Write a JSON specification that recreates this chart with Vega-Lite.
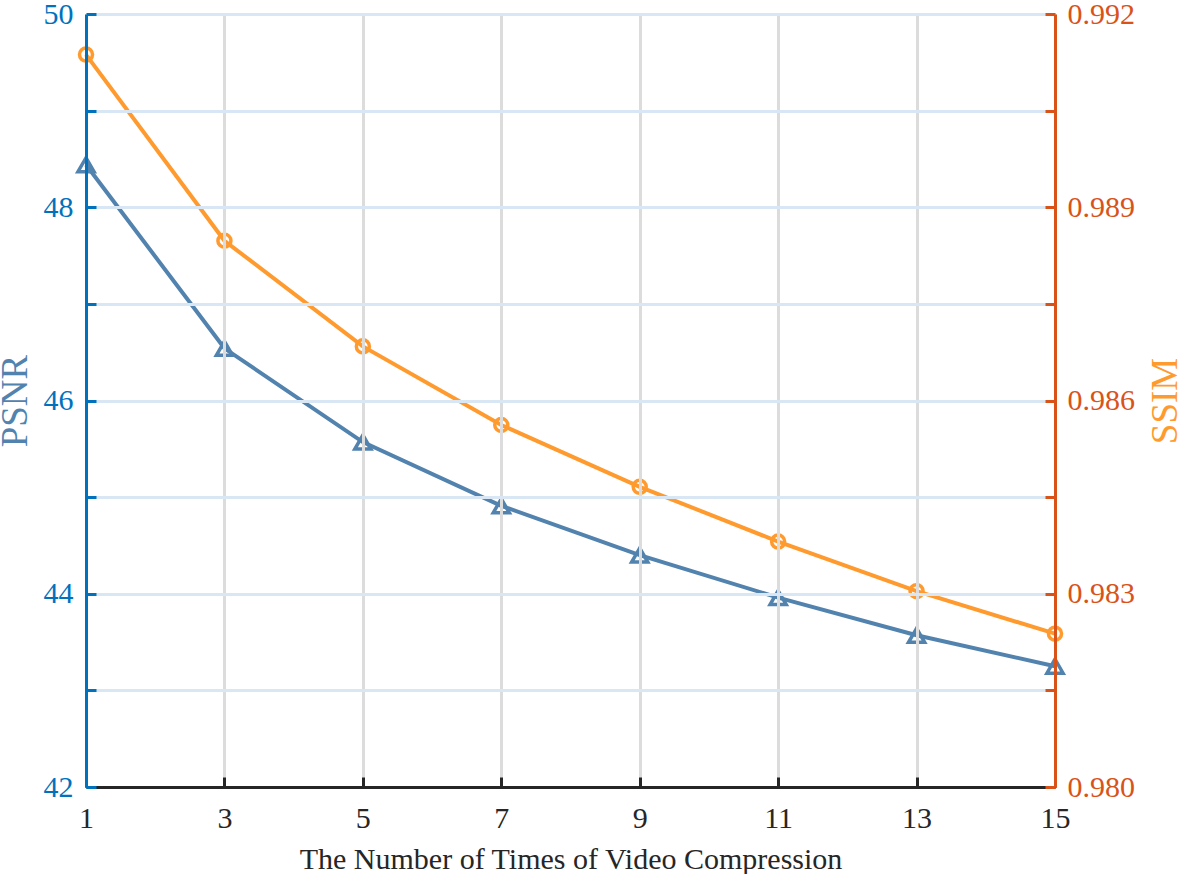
{
  "$schema": "https://vega.github.io/schema/vega-lite/v6.json",
  "width": 969,
  "height": 773,
  "autosize": {"type": "none"},
  "padding": {"left": 86, "top": 14, "right": 126, "bottom": 87},
  "background": "white",
  "config": {
    "view": {"stroke": null},
    "font": "Liberation Serif",
    "axis": {"labelFont": "Liberation Serif", "titleFont": "Liberation Serif", "titleFontWeight": "normal", "labelFlush": false, "labelOverlap": false}
  },
  "data": {
    "values": [
      {"n": 1, "psnr": 48.44, "ssim": 0.99137},
      {"n": 3, "psnr": 46.54, "ssim": 0.98848},
      {"n": 5, "psnr": 45.57, "ssim": 0.98684},
      {"n": 7, "psnr": 44.91, "ssim": 0.98562},
      {"n": 9, "psnr": 44.40, "ssim": 0.98466},
      {"n": 11, "psnr": 43.96, "ssim": 0.98381},
      {"n": 13, "psnr": 43.57, "ssim": 0.98304},
      {"n": 15, "psnr": 43.25, "ssim": 0.98238}
    ]
  },
  "encoding": {
    "x": {
      "field": "n",
      "type": "quantitative",
      "scale": {"domain": [1, 15], "nice": false, "zero": false},
      "axis": {
        "title": "The Number of Times of Video Compression",
        "values": [1, 3, 5, 7, 9, 11, 13, 15],
        "format": "d",
        "labelFontSize": 30,
        "labelColor": "#262626",
        "labelPadding": 26,
        "titleFontSize": 30,
        "titleColor": "#262626",
        "titlePadding": 11,
        "domainColor": "#262626",
        "domainWidth": 3,
        "tickColor": "#262626",
        "tickWidth": 3,
        "tickSize": -10,
        "grid": true,
        "gridColor": "#dcdcdc",
        "gridWidth": 3,
        "zindex": 1
      }
    }
  },
  "layer": [
    {
      "mark": {
        "type": "line",
        "color": "#5283ae",
        "strokeWidth": 4,
        "point": {"shape": "triangle-up", "filled": false, "size": 260, "color": "#5283ae", "strokeWidth": 3.5}
      },
      "encoding": {
        "y": {
          "field": "psnr",
          "type": "quantitative",
          "scale": {"domain": [42, 50], "nice": false, "zero": false},
          "axis": {
            "orient": "left",
            "title": "PSNR",
            "values": [42, 43, 44, 45, 46, 47, 48, 49, 50],
            "labelExpr": "datum.value % 2 == 0 ? datum.label : ''",
            "labelFontSize": 30,
            "labelColor": "#0072BD",
            "labelPadding": 23,
            "titleFontSize": 37,
            "titleColor": "#5283ae",
            "titlePadding": 9,
            "domainColor": "#0072BD",
            "domainWidth": 3,
            "tickColor": "#0072BD",
            "tickWidth": 3,
            "tickSize": -10,
            "grid": true,
            "gridColor": "#d8e7f3",
            "gridWidth": 3,
            "zindex": 1
          }
        }
      }
    },
    {
      "mark": {
        "type": "line",
        "color": "#ff9a2e",
        "strokeWidth": 4,
        "point": {"shape": "circle", "filled": false, "size": 170, "color": "#ff9a2e", "strokeWidth": 3.5}
      },
      "encoding": {
        "y": {
          "field": "ssim",
          "type": "quantitative",
          "scale": {"domain": [0.98, 0.992], "nice": false, "zero": false},
          "axis": {
            "orient": "right",
            "title": "SSIM",
            "values": [0.98, 0.9815, 0.983, 0.9845, 0.986, 0.9875, 0.989, 0.9905, 0.992],
            "labelExpr": "indexof(['0.980','0.983','0.986','0.989','0.992'], format(datum.value, '.3f')) >= 0 ? format(datum.value, '.3f') : ''",
            "labelFontSize": 30,
            "labelColor": "#D95319",
            "labelPadding": 22,
            "titleFontSize": 37,
            "titleColor": "#ff9a2e",
            "titleAngle": 270,
            "titlePadding": 50,
            "domainColor": "#D95319",
            "domainWidth": 3,
            "tickColor": "#D95319",
            "tickWidth": 3,
            "tickSize": -10,
            "grid": false,
            "zindex": 1
          }
        }
      }
    }
  ],
  "resolve": {"scale": {"y": "independent"}}
}
